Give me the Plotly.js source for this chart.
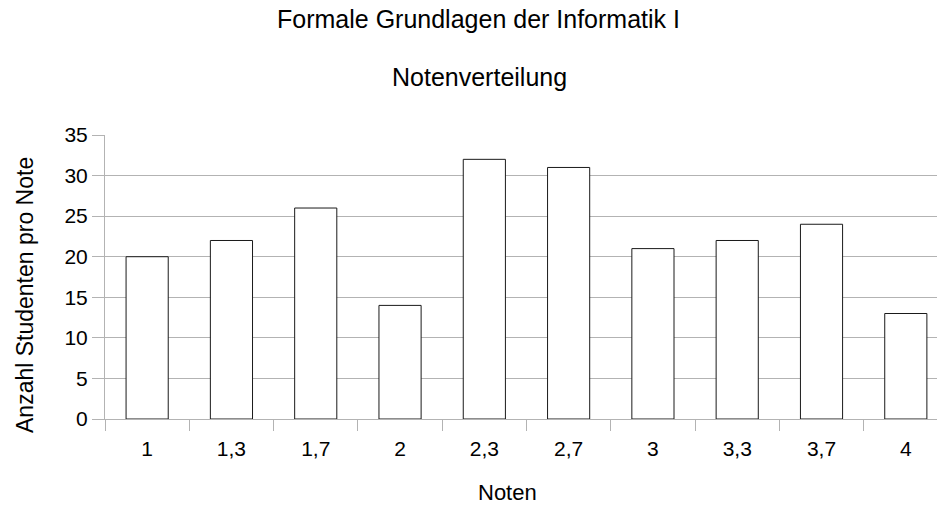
<!DOCTYPE html>
<html><head><meta charset="utf-8">
<script src="https://cdn.plot.ly/plotly-3.0.1.min.js"></script>
<style>html,body{margin:0;padding:0;background:#fff}</style>
</head><body>
<div id="chart" style="width:937px;height:508px"></div>
<script>
const noten = ["1","1,3","1,7","2","2,3","2,7","3","3,3","3,7","4"];
const anzahl = [20,22,26,14,32,31,21,22,24,13];
const yTicks = [0,5,10,15,20,25,30,35];
const titel = "Formale Grundlagen der Informatik I";
const untertitel = "Notenverteilung";
const xTitel = "Noten";
const yTitel = "Anzahl Studenten pro Note";

const W = 937, H = 508;
const M = {l: 105, r: 0, t: 135, b: 89};
const pw = W - M.l - M.r, ph = H - M.t - M.b;
const px2x = px => (px - M.l) / pw;
const py2y = py => (H - M.b - py) / ph;

const fam = "Liberation Sans, Arial, sans-serif";
const f = s => ({family: fam, size: s, color: "#000"});

Plotly.newPlot("chart", [{
  type: "bar",
  x: noten,
  y: anzahl,
  width: 0.5,
  marker: {color: "#ffffff", line: {color: "#1a1a1a", width: 1}},
  hoverinfo: "skip"
}], {
  width: W, height: H,
  margin: M,
  paper_bgcolor: "#fff", plot_bgcolor: "#fff",
  showlegend: false,
  font: f(21),
  xaxis: {
    type: "category",
    range: [-0.5, 9.37],
    tickson: "boundaries",
    ticks: "outside", ticklen: 11, tickcolor: "#b3b3b3", tickwidth: 1,
    ticklabelstandoff: 11,
    showline: true, linecolor: "#b3b3b3", linewidth: 1,
    showgrid: false, zeroline: false,
    tickfont: f(21),
    fixedrange: true
  },
  yaxis: {
    range: [0, 35],
    tickvals: yTicks,
    ticks: "outside", ticklen: 12, tickcolor: "#b3b3b3", tickwidth: 1,
    showline: true, linecolor: "#b3b3b3", linewidth: 1,
    showgrid: true, gridcolor: "#b3b3b3", gridwidth: 1,
    zeroline: false,
    tickfont: f(21),
    fixedrange: true
  },
  annotations: [
    {text: titel, xref: "paper", yref: "paper", x: px2x(478), y: py2y(19), xanchor: "center", yanchor: "middle",
     showarrow: false, font: f(25)},
    {text: untertitel, xref: "paper", yref: "paper", x: px2x(479), y: py2y(77), xanchor: "center", yanchor: "middle",
     showarrow: false, font: f(25)},
    {text: xTitel, xref: "paper", yref: "paper", x: px2x(507), y: py2y(493), xanchor: "center", yanchor: "middle",
     showarrow: false, font: f(22)},
    {text: yTitel, xref: "paper", yref: "paper", x: px2x(24.5), y: py2y(295.5), xanchor: "center", yanchor: "middle",
     textangle: -90, showarrow: false, font: f(23)}
  ]
}, {staticPlot: true});
</script>
</body></html>
